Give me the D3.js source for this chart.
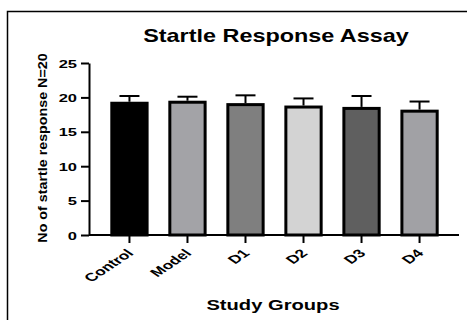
<!DOCTYPE html>
<html><head><meta charset="utf-8">
<script src="https://cdn.jsdelivr.net/npm/d3@7"></script>
<style>html,body{margin:0;padding:0;background:#fff;overflow:hidden}text{font-family:"Liberation Sans",Arial,sans-serif;font-weight:bold;fill:#000}</style>
</head><body><svg id="c" width="467" height="320"></svg>
<script>
const categories = ["Control","Model","D1","D2","D3","D4"];
const means = [19.15, 19.3, 18.95, 18.6, 18.4, 18.0];
const errTop = [20.2, 20.1, 20.3, 19.85, 20.2, 19.4];
const fills = ["#000000","#a3a3a7","#7f7f7f","#d3d3d3","#5f5f5f","#a1a1a5"];
const yTicks = [0,5,10,15,20,25];
const title = "Startle Response Assay";
const xTitle = "Study Groups";
const yTitle = "No of startle response N=20";

const svg = d3.select("#c");
svg.append("rect").attr("x",7.5).attr("y",11.5).attr("width",520).attr("height",400)
  .attr("fill","none").attr("stroke","#000").attr("stroke-width",1.5);

const x = d3.scaleBand().domain(categories).range([90,459]).paddingInner(0.34).paddingOuter(0.35);
const y = d3.scaleLinear().domain([0,25]).range([235,63]);

// bars
const bw = x.bandwidth();
svg.selectAll("rect.bar").data(categories).join("rect").attr("class","bar")
  .attr("x",d=>x(d)+1.5).attr("width",bw-3)
  .attr("y",(d,i)=>y(means[i])).attr("height",(d,i)=>y(0)-y(means[i]))
  .attr("fill",(d,i)=>fills[i]).attr("stroke","#000").attr("stroke-width",3);

// error bars
const eg = svg.append("g").attr("stroke","#000").attr("stroke-width",2);
categories.forEach((c,i)=>{
  const cx = x(c)+bw/2;
  eg.append("line").attr("x1",cx).attr("x2",cx).attr("y1",y(means[i])-1.5).attr("y2",y(errTop[i]));
  eg.append("line").attr("x1",cx-10).attr("x2",cx+10).attr("y1",y(errTop[i])).attr("y2",y(errTop[i]));
});

// y axis
const ya = svg.append("g").attr("transform","translate(89,0)")
  .call(d3.axisLeft(y).tickValues(yTicks).tickSize(8).tickSizeOuter(0));
ya.select(".domain").attr("stroke-width",2);
ya.selectAll(".tick line").attr("stroke-width",2);
ya.selectAll(".tick text").attr("x",0).attr("dy",0)
  .attr("transform","translate(-12,4) scale(1.5,1)")
  .style("font-size","11px").style("font-family","Liberation Sans, Arial").style("font-weight","bold");

// x axis
const xa = svg.append("g").attr("transform","translate(0,235)")
  .call(d3.axisBottom(x).tickSize(8).tickSizeOuter(0));
xa.select(".domain").attr("stroke-width",2).attr("d","M89,0H459");
xa.selectAll(".tick line").attr("stroke-width",2);
xa.selectAll(".tick text").attr("x",0).attr("y",0).attr("dy",0)
  .attr("text-anchor","end")
  .attr("transform","translate(5,19) scale(1.5,1) rotate(-45)")
  .style("font-size","11.5px").style("font-family","Liberation Sans, Arial").style("font-weight","bold");

// titles
svg.append("text").attr("transform","translate(276,42) scale(1.3,1)")
  .attr("text-anchor","middle").style("font-size","18px").text(title);
svg.append("text").attr("transform","translate(273,310) scale(1.44,1)")
  .attr("text-anchor","middle").style("font-size","14px").text(xTitle);
svg.append("text").attr("transform","translate(47,148) scale(0.92,1) rotate(-90)")
  .attr("text-anchor","middle").style("font-size","14.3px").text(yTitle);
</script></body></html>
